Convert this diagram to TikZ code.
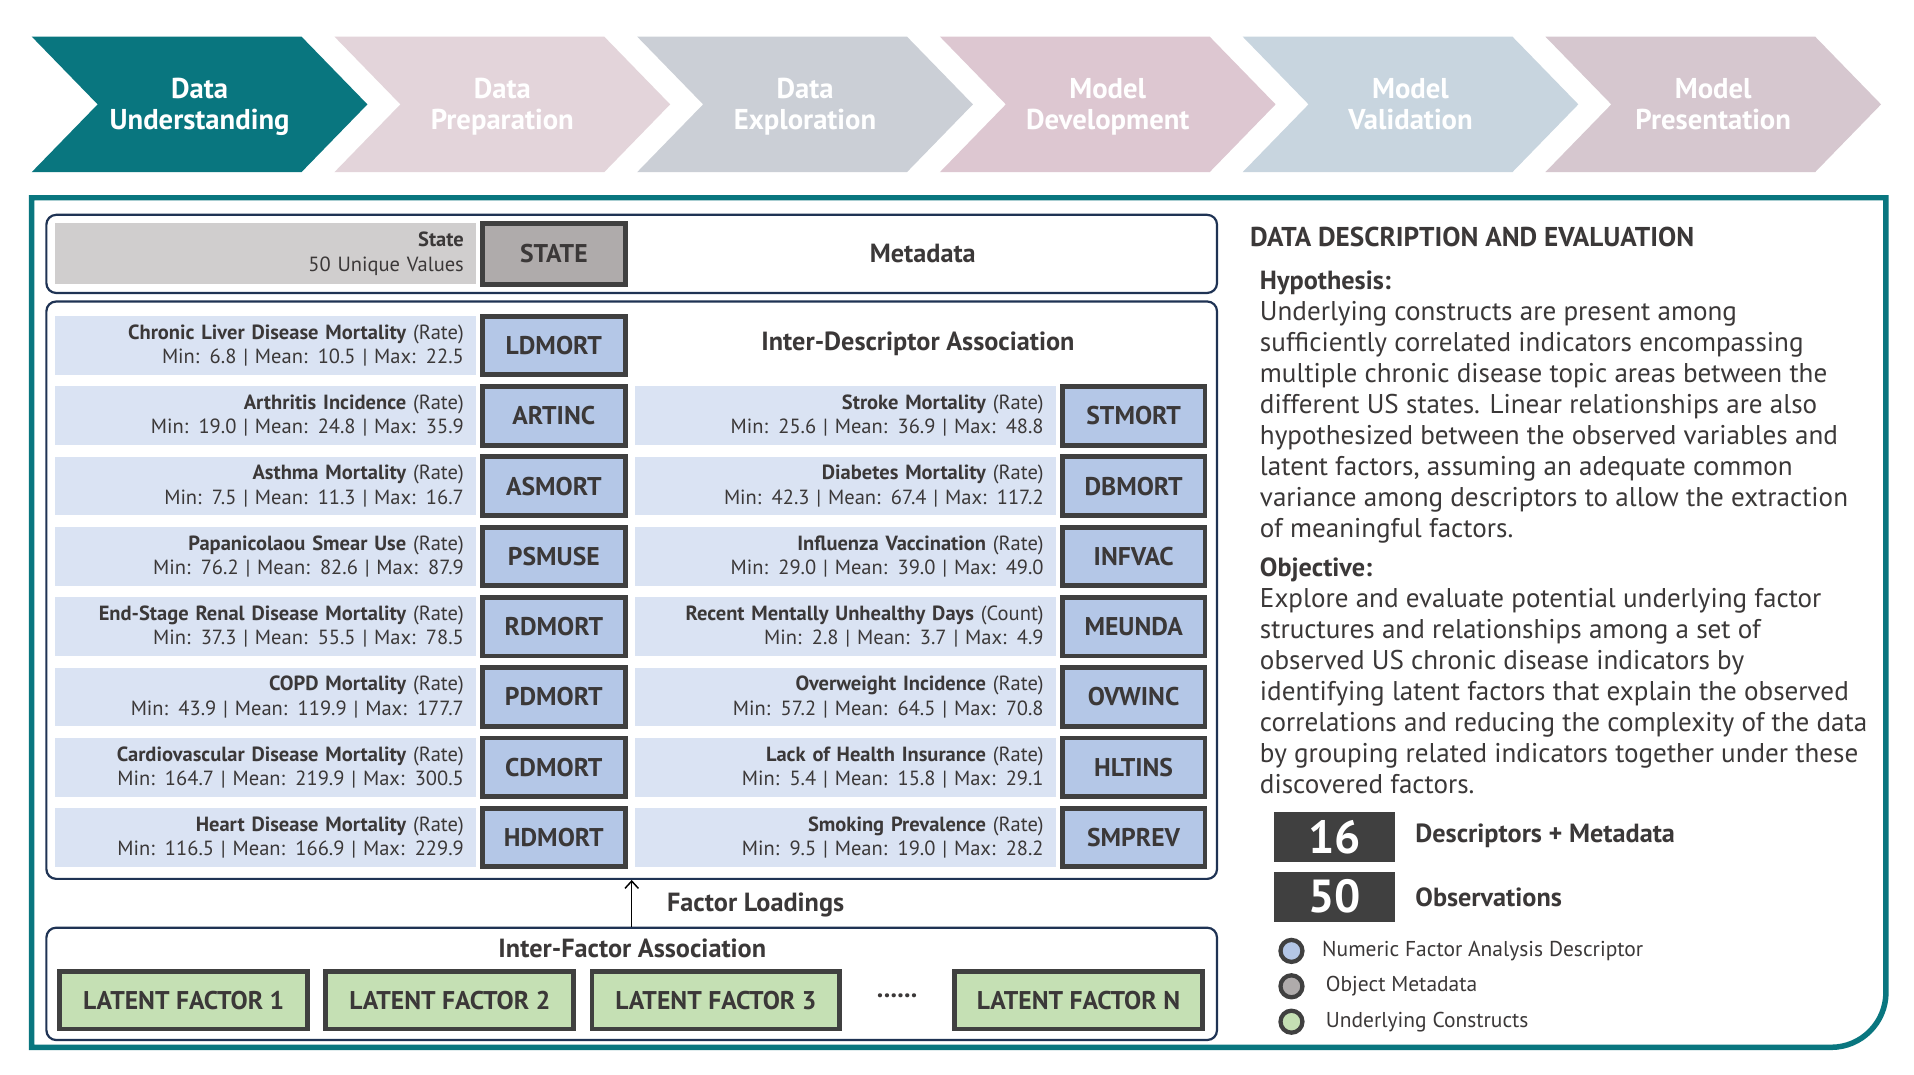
\documentclass[tikz,border=0pt]{standalone}
\usepackage{fontspec}
\setmainfont{PT Sans}
\usetikzlibrary{positioning,arrows.meta}

\definecolor{frameteal}{HTML}{09767F}
\definecolor{stagepink}{HTML}{E3D4DA}
\definecolor{stagegrey}{HTML}{CBCFD6}
\definecolor{stagerose}{HTML}{DDC7D1}
\definecolor{stagesky}{HTML}{C8D5DF}
\definecolor{stagemauve}{HTML}{D6C7CF}
\definecolor{panelnavy}{HTML}{1F3354}
\definecolor{darktext}{HTML}{3B3838}
\definecolor{barblue}{HTML}{DAE3F3}
\definecolor{codeblue}{HTML}{B4C7E7}
\definecolor{codeborder}{HTML}{404040}
\definecolor{bargrey}{HTML}{D0CECE}
\definecolor{codegrey}{HTML}{AFABAB}
\definecolor{factorgreen}{HTML}{C5E0B4}

\begin{document}
\begin{tikzpicture}[
        x=1pt, y=-1pt,
        stage/.style={font=\bfseries\fontsize{23.5}{25}\selectfont, text=white, align=center,
            execute at begin node=\strut, execute at end node=\strut},
        panel/.style={draw=panelnavy, line width=1.8pt, rounded corners=8pt, minimum width=959pt, inner sep=0pt},
        bar/.style={fill=barblue, minimum width=345pt, minimum height=48pt, text width=325pt,
            inner xsep=10pt, inner ysep=0pt, align=right, text=darktext, font=\fontsize{16.8}{20}\selectfont},
        code/.style={draw=codeborder, fill=codeblue, line width=4pt, minimum width=117pt, minimum height=48pt,
            inner sep=0pt, text=darktext, font=\bfseries\fontsize{21}{24}\selectfont},
        factor/.style={code, fill=factorgreen, minimum width=203pt, minimum height=47pt},
        heading/.style={text=darktext, font=\bfseries\fontsize{21.5}{25}\selectfont},
        body/.style={text=darktext, align=left, inner sep=0pt, font=\fontsize{22.2}{25.4}\selectfont},
        stat/.style={fill=codeborder, minimum width=99pt, minimum height=41pt, inner sep=0pt,
            text=white, font=\bfseries\fontsize{38}{40}\selectfont},
        dot/.style={circle, draw=codeborder, line width=3.5pt, minimum size=18pt, inner sep=0pt},
        legend/.style={anchor=west, inner sep=0pt, text=darktext, font=\fontsize{17.6}{20}\selectfont},
        ]
    \useasboundingbox (0,0) rectangle (1568,880.6);
    \fill[white] (0,0) rectangle (1568,880.6);

    % process stages
    \fill[frameteal] (26,30) -- (247,30) -- (301,85.5) -- (247,141) -- (26,141) -- (80,85.5) -- cycle;
    \fill[stagepink] (274,30) -- (495,30) -- (549,85.5) -- (495,141) -- (274,141) -- (328,85.5) -- cycle;
    \fill[stagegrey] (522,30) -- (743,30) -- (797,85.5) -- (743,141) -- (522,141) -- (576,85.5) -- cycle;
    \fill[stagerose] (770,30) -- (991,30) -- (1045,85.5) -- (991,141) -- (770,141) -- (824,85.5) -- cycle;
    \fill[stagesky] (1018,30) -- (1239,30) -- (1293,85.5) -- (1239,141) -- (1018,141) -- (1072,85.5) -- cycle;
    \fill[stagemauve] (1266,30) -- (1487,30) -- (1541,85.5) -- (1487,141) -- (1266,141) -- (1320,85.5) -- cycle;
    \node (understanding) [stage] at (163.5,89) {Data\\Understanding};
    \node (preparation) [stage] at (411.5,89) {Data\\Preparation};
    \node (exploration) [stage] at (659.5,89) {Data\\Exploration};
    \node (development) [stage] at (907.5,89) {Model\\Development};
    \node (validation) [stage] at (1155.5,89) {Model\\Validation};
    \node (presentation) [stage] at (1403.5,89) {Model\\Presentation};

    % outer frame
    \draw[frameteal, line width=4.5pt] (26,858) -- (26,162) -- (1545,162) -- (1545,813)
        arc[start angle=0, end angle=-90, radius=45pt] -- cycle;

    % metadata
    \node (metabox) [panel, minimum height=64pt] at (517.5,208) {};
    \node (statebar) [bar, fill=bargrey, minimum height=50pt] at (217.5,208)
        {\textbf{State}\\50 Unique Values};
    \node (state) [code, fill=codegrey, minimum height=50pt, right=3pt of statebar] {STATE};
    \node (metadata) [heading] at (756,208) {Metadata};

    % descriptors
    \node (idbox) [panel, minimum height=473pt] at (517.5,483.5) {};
    \node (idtitle) [heading] at (752,282) {Inter-Descriptor Association};

    \node (ldmortbar) [bar] at (217.5,283)
        {\textbf{Chronic Liver Disease Mortality} (Rate)\\Min: 6.8 | Mean: 10.5 | Max: 22.5};
    \node (ldmort) [code, right=3pt of ldmortbar] {LDMORT};
    \node (artincbar) [bar] at (217.5,340.6)
        {\textbf{Arthritis Incidence} (Rate)\\Min: 19.0 | Mean: 24.8 | Max: 35.9};
    \node (artinc) [code, right=3pt of artincbar] {ARTINC};
    \node (asmortbar) [bar] at (217.5,398.2)
        {\textbf{Asthma Mortality} (Rate)\\Min: 7.5 | Mean: 11.3 | Max: 16.7};
    \node (asmort) [code, right=3pt of asmortbar] {ASMORT};
    \node (psmusebar) [bar] at (217.5,455.8)
        {\textbf{Papanicolaou Smear Use} (Rate)\\Min: 76.2 | Mean: 82.6 | Max: 87.9};
    \node (psmuse) [code, right=3pt of psmusebar] {PSMUSE};
    \node (rdmortbar) [bar] at (217.5,513.4)
        {\textbf{End-Stage Renal Disease Mortality} (Rate)\\Min: 37.3 | Mean: 55.5 | Max: 78.5};
    \node (rdmort) [code, right=3pt of rdmortbar] {RDMORT};
    \node (pdmortbar) [bar] at (217.5,571)
        {\textbf{COPD Mortality} (Rate)\\Min: 43.9 | Mean: 119.9 | Max: 177.7};
    \node (pdmort) [code, right=3pt of pdmortbar] {PDMORT};
    \node (cdmortbar) [bar] at (217.5,628.6)
        {\textbf{Cardiovascular Disease Mortality} (Rate)\\Min: 164.7 | Mean: 219.9 | Max: 300.5};
    \node (cdmort) [code, right=3pt of cdmortbar] {CDMORT};
    \node (hdmortbar) [bar] at (217.5,686.2)
        {\textbf{Heart Disease Mortality} (Rate)\\Min: 116.5 | Mean: 166.9 | Max: 229.9};
    \node (hdmort) [code, right=3pt of hdmortbar] {HDMORT};

    \node (stmortbar) [bar] at (692.5,340.6)
        {\textbf{Stroke Mortality} (Rate)\\Min: 25.6 | Mean: 36.9 | Max: 48.8};
    \node (stmort) [code, right=3pt of stmortbar] {STMORT};
    \node (dbmortbar) [bar] at (692.5,398.2)
        {\textbf{Diabetes Mortality} (Rate)\\Min: 42.3 | Mean: 67.4 | Max: 117.2};
    \node (dbmort) [code, right=3pt of dbmortbar] {DBMORT};
    \node (infvacbar) [bar] at (692.5,455.8)
        {\textbf{Influenza Vaccination} (Rate)\\Min: 29.0 | Mean: 39.0 | Max: 49.0};
    \node (infvac) [code, right=3pt of infvacbar] {INFVAC};
    \node (meundabar) [bar] at (692.5,513.4)
        {\textbf{Recent Mentally Unhealthy Days} (Count)\\Min: 2.8 | Mean: 3.7 | Max: 4.9};
    \node (meunda) [code, right=3pt of meundabar] {MEUNDA};
    \node (ovwincbar) [bar] at (692.5,571)
        {\textbf{Overweight Incidence} (Rate)\\Min: 57.2 | Mean: 64.5 | Max: 70.8};
    \node (ovwinc) [code, right=3pt of ovwincbar] {OVWINC};
    \node (hltinsbar) [bar] at (692.5,628.6)
        {\textbf{Lack of Health Insurance} (Rate)\\Min: 5.4 | Mean: 15.8 | Max: 29.1};
    \node (hltins) [code, right=3pt of hltinsbar] {HLTINS};
    \node (smprevbar) [bar] at (692.5,686.2)
        {\textbf{Smoking Prevalence} (Rate)\\Min: 9.5 | Mean: 19.0 | Max: 28.2};
    \node (smprev) [code, right=3pt of smprevbar] {SMPREV};

    % factors
    \node (ifbox) [panel, minimum height=92pt] at (517.5,806) {};
    \node (iftitle) [heading] at (518,777) {Inter-Factor Association};
    \node (factor1) [factor] at (150.5,819.5) {LATENT FACTOR 1};
    \node (factor2) [factor] at (368.5,819.5) {LATENT FACTOR 2};
    \node (factor3) [factor] at (586.5,819.5) {LATENT FACTOR 3};
    \node (dots) [heading] at (735,816) {......};
    \node (factorn) [factor] at (883.5,819.5) {LATENT FACTOR N};

    \draw[-{Straight Barb[length=6pt,width=11pt]}, line width=1.2pt] (ifbox.north) -- (idbox.south);
    \node (loadings) [heading, anchor=west] at (543,741) {Factor Loadings};

    % description
    \node (desctitle) [heading, font=\bfseries\fontsize{22.3}{25}\selectfont, anchor=base west, inner sep=0pt]
        at (1024,202) {DATA DESCRIPTION AND EVALUATION};
    \node (hyphead) [heading, anchor=base west, inner sep=0pt] at (1032,237) {Hypothesis:};
    \node (hypbody) [body, anchor=north west] at (1032,247)
        {Underlying constructs are present among\\
         sufficiently correlated indicators encompassing\\
         multiple chronic disease topic areas between the\\
         different US states. Linear relationships are also\\
         hypothesized between the observed variables and\\
         latent factors, assuming an adequate common\\
         variance among descriptors to allow the extraction\\
         of meaningful factors.};
    \node (objhead) [heading, anchor=base west, inner sep=0pt] at (1032,472) {Objective:};
    \node (objbody) [body, anchor=north west] at (1032,482)
        {Explore and evaluate potential underlying factor\\
         structures and relationships among a set of\\
         observed US chronic disease indicators by\\
         identifying latent factors that explain the observed\\
         correlations and reducing the complexity of the data\\
         by grouping related indicators together under these\\
         discovered factors.};

    \node (n16) [stat] at (1093.5,685.5) {16};
    \node (n16text) [heading, anchor=west] at (1156,685) {Descriptors + Metadata};
    \node (n50) [stat] at (1093.5,734.5) {50};
    \node (n50text) [heading, anchor=west] at (1156,735) {Observations};

    \node (dotblue) [dot, fill=codeblue] at (1058,779) {};
    \node (dotgrey) [dot, fill=codegrey] at (1058,808) {};
    \node (dotgreen) [dot, fill=factorgreen] at (1058,837) {};
    \node (legblue) [legend] at (1083,779) {Numeric Factor Analysis Descriptor};
    \node (leggrey) [legend] at (1086,808) {Object Metadata};
    \node (leggreen) [legend] at (1086,837) {Underlying Constructs};
\end{tikzpicture}
\end{document}
